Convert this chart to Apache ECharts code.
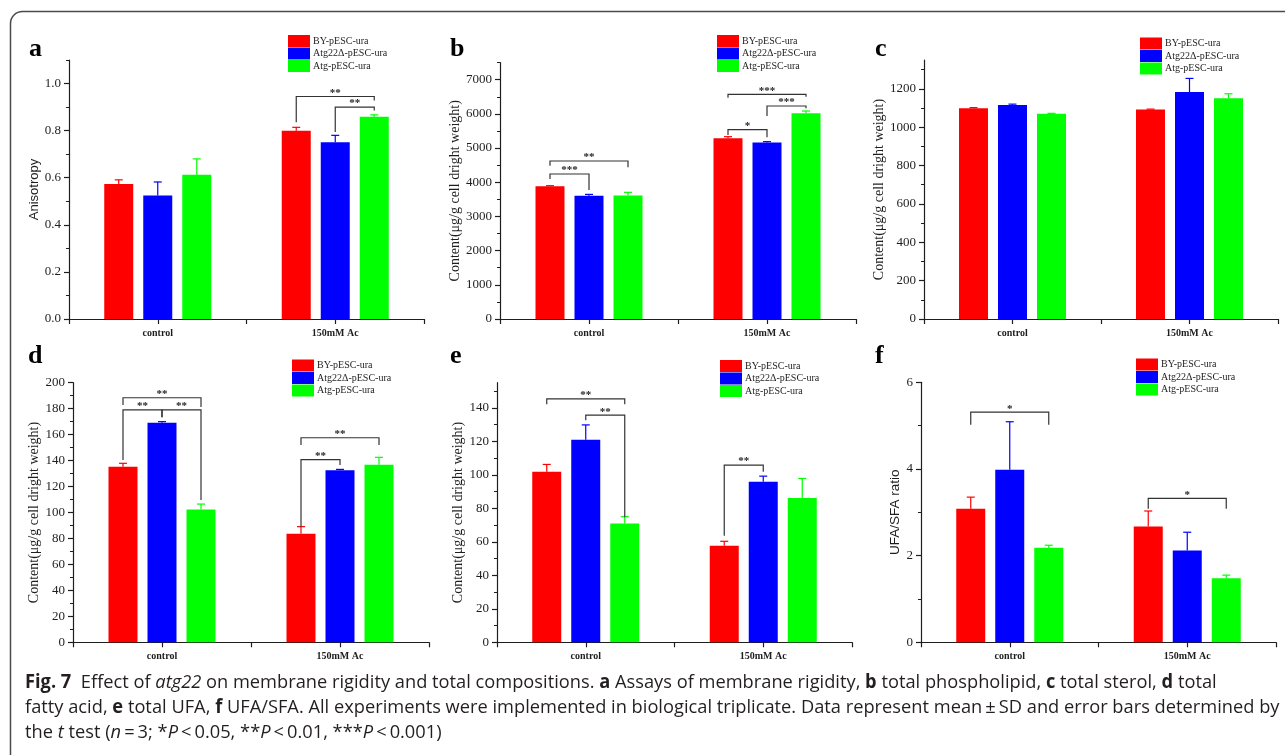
<!DOCTYPE html>
<html>
<head>
<meta charset="utf-8">
<script src="https://cdn.jsdelivr.net/npm/echarts@6/dist/echarts.min.js"></script>
<style>
  html, body { margin: 0; padding: 0; background: #fff; }
  #chart { width: 1285px; height: 755px; }
</style>
</head>
<body>
<div id="chart"></div>
<script>
// ---- data ----
const categories = ['control', '150mM Ac'];
const strains = ['BY-pESC-ura', 'Atg22Δ-pESC-ura', 'Atg-pESC-ura'];

// rows: strain, columns: condition
// significance rows: [condition, fromStrain, toStrain, bracketTop, leftLegEnd, rightLegEnd, stars]
const anisoMean = [[0.573, 0.800], [0.524, 0.751], [0.613, 0.859]];
const anisoSD   = [[0.018, 0.014], [0.058, 0.029], [0.067, 0.008]];
const anisoSig  = [[1, 0, 2, 0.945, 0.836, 0.928, '**'], [1, 1, 2, 0.900, 0.794, 0.886, '**']];
const anisoTicks = [0, 0.2, 0.4, 0.6, 0.8, 1.0];
const anisoMinor = [0.1, 0.3, 0.5, 0.7, 0.9, 1.1];

const phosMean = [[3880, 5285], [3607, 5160], [3610, 6016]];
const phosSD   = [[20, 48], [38, 28], [95, 68]];
const phosSig  = [
  [0, 0, 2, 4621, 4484, 4437, '**'],
  [0, 0, 1, 4241, 4095, 3773, '***'],
  [1, 0, 1, 5537, 5381, 5314, '*'],
  [1, 1, 2, 6230, 5937, 6162, '***'],
  [1, 0, 2, 6572, 6472, 6503, '***']
];
const phosTicks = [0, 1000, 2000, 3000, 4000, 5000, 6000, 7000];
const phosMinor = [500, 1500, 2500, 3500, 4500, 5500, 6500, 7500];

const sterolMean = [[1099, 1092], [1116, 1183], [1070, 1151]];
const sterolSD   = [[3, 2], [4, 71], [2, 23]];
const sterolSig  = [];
const sterolTicks = [0, 200, 400, 600, 800, 1000, 1200];
const sterolMinor = [100, 300, 500, 700, 900, 1100, 1300];

const faMean = [[135.3, 83.7], [169.2, 132.5], [102.4, 136.8]];
const faSD   = [[2.6, 5.4], [0.8, 0.7], [4.1, 5.7]];
const faSig  = [
  [0, 0, 2, 188.4, 182.8, 181.3, '**'],
  [0, 0, 1, 179.0, 140.4, 173.3, '**'],
  [0, 1, 2, 179.0, 173.3, 109.6, '**'],
  [1, 0, 2, 157.6, 152.0, 152.0, '**'],
  [1, 0, 1, 140.7, 89.1, 136.6, '**']
];
const faTicks = [0, 20, 40, 60, 80, 100, 120, 140, 160, 180, 200];
const faMinor = [10, 30, 50, 70, 90, 110, 130, 150, 170, 190];

const ufaMean = [[101.8, 57.7], [120.9, 95.8], [71.0, 86.1]];
const ufaSD   = [[4.4, 2.6], [8.9, 3.4], [4.0, 11.7]];
const ufaSig  = [
  [0, 0, 2, 145.4, 142.2, 142.2, '**'],
  [0, 1, 2, 135.6, 132.6, 74.6, '**'],
  [1, 0, 1, 105.8, 63.6, 101.8, '**']
];
const ufaTicks = [0, 20, 40, 60, 80, 100, 120, 140];
const ufaMinor = [10, 30, 50, 70, 90, 110, 130, 150];

const ratioMean = [[3.08, 2.67], [3.98, 2.12], [2.18, 1.48]];
const ratioSD   = [[0.27, 0.36], [1.11, 0.42], [0.06, 0.07]];
const ratioSig  = [[0, 0, 2, 5.31, 5.02, 5.02, '*'], [1, 0, 2, 3.32, 3.08, 3.08, '*']];
const ratioTicks = [0, 2, 4, 6];
const ratioMinor = [1, 3, 5];

const contentTitle = 'Content(μg/g cell dright weight)';

// ---- styles ----
const SERIF = '"Liberation Serif", "Times New Roman", serif';
const SANS = '"Liberation Sans", Arial, sans-serif';
const CAPTION_FONT = '"Open Sans", "Noto Sans", sans-serif';
const CAPTION_SIZE = 19;
const INK = '#1e1e1e';
const strainColors = ['#ff0000', '#0000ff', '#00ff00'];
const BAR_W = 29;
const BAR_GAP = 0.345;
const STEP = BAR_W * (1 + BAR_GAP);

const panels = [
  { letter: 'a', mean: anisoMean, sd: anisoSD, sig: anisoSig, ticks: anisoTicks, minor: anisoMinor, max: 1.1,
    title: 'Anisotropy', titleFont: SANS, titleSize: 13, decimals: 1, nameGap: 28,
    grid: { left: 69, top: 60, width: 355, height: 259 }, legend: { left: 283, top: 30 }, letterPos: [29, 49] },
  { letter: 'b', mean: phosMean, sd: phosSD, sig: phosSig, ticks: phosTicks, minor: phosMinor, max: 7500,
    title: contentTitle, titleFont: SERIF, titleSize: 14, decimals: 0, nameGap: 35,
    grid: { left: 500, top: 62.6, width: 356, height: 256.4 }, legend: { left: 712, top: 30 }, letterPos: [450, 49] },
  { letter: 'c', mean: sterolMean, sd: sterolSD, sig: sterolSig, ticks: sterolTicks, minor: sterolMinor, max: 1350,
    title: contentTitle, titleFont: SERIF, titleSize: 14, decimals: 0, nameGap: 37,
    grid: { left: 924, top: 60, width: 354, height: 259 }, legend: { left: 1135, top: 32.5 }, letterPos: [875, 49] },
  { letter: 'd', mean: faMean, sd: faSD, sig: faSig, ticks: faTicks, minor: faMinor, max: 200,
    title: contentTitle, titleFont: SERIF, titleSize: 14, decimals: 0, nameGap: 30,
    grid: { left: 73, top: 382.7, width: 356, height: 259.6 }, legend: { left: 287, top: 354.5 }, letterPos: [28, 356] },
  { letter: 'e', mean: ufaMean, sd: ufaSD, sig: ufaSig, ticks: ufaTicks, minor: ufaMinor, max: 155,
    title: contentTitle, titleFont: SERIF, titleSize: 14, decimals: 0, nameGap: 31,
    grid: { left: 497, top: 382.7, width: 355, height: 259.6 }, legend: { left: 715, top: 355 }, letterPos: [450, 356] },
  { letter: 'f', mean: ratioMean, sd: ratioSD, sig: ratioSig, ticks: ratioTicks, minor: ratioMinor, max: 6,
    title: 'UFA/SFA ratio', titleFont: SANS, titleSize: 13.5, decimals: 0, nameGap: 19,
    grid: { left: 921, top: 382.3, width: 355, height: 260 }, legend: { left: 1131, top: 353.5 }, letterPos: [875, 356] }
];

// ---- build ----
const option = {
  animation: false,
  backgroundColor: '#ffffff',
  grid: [], xAxis: [], yAxis: [], legend: [], series: [], graphic: []
};

function errorBarRenderer(params, api) {
  const cat = api.value(0), i = api.value(1), mean = api.value(2), sd = api.value(3);
  const base = api.coord([cat, mean]);
  const tip = api.coord([cat, mean + sd]);
  const x = base[0] + (i - 1) * STEP;
  const half = 4;
  return {
    type: 'group',
    children: [
      { type: 'line', shape: { x1: x, y1: base[1], x2: x, y2: tip[1] },
        style: { stroke: strainColors[i], lineWidth: 1.2 } },
      { type: 'line', shape: { x1: x - half, y1: tip[1], x2: x + half, y2: tip[1] },
        style: { stroke: strainColors[i], lineWidth: 1.2 } }
    ]
  };
}

function makeBracketRenderer(sig) {
  return function (params, api) {
    const cat = api.value(0), i = api.value(1), j = api.value(2);
    const top = api.coord([cat, api.value(3)]);
    const yl = api.coord([cat, api.value(4)])[1];
    const yr = api.coord([cat, api.value(5)])[1];
    const x1 = top[0] + (i - 1) * STEP;
    const x2 = top[0] + (j - 1) * STEP;
    return {
      type: 'group',
      children: [
        { type: 'polyline', shape: { points: [[x1, yl], [x1, top[1]], [x2, top[1]], [x2, yr]] },
          style: { stroke: '#333', lineWidth: 1.2, fill: null } },
        { type: 'text', x: (x1 + x2) / 2, y: top[1] + 2,
          style: { text: sig[params.dataIndex][6], fill: INK, fontFamily: SERIF, fontWeight: 'bold',
                   fontSize: 11, align: 'center', verticalAlign: 'bottom' } }
      ]
    };
  };
}

panels.forEach((p, k) => {
  option.grid.push(Object.assign({}, p.grid));

  const xi = option.xAxis.length;
  option.xAxis.push({
    type: 'category', gridIndex: k, data: categories,
    axisLine: { lineStyle: { color: INK, width: 1.2 } },
    axisTick: { show: false },
    axisLabel: { margin: 9, fontFamily: SERIF, fontWeight: 'bold', fontSize: 10, color: INK }
  });
  // tick marks at group centres and group boundaries
  option.xAxis.push({
    type: 'value', gridIndex: k, min: 0, max: 2, interval: 0.5, position: 'bottom',
    axisLine: { show: false }, axisLabel: { show: false }, splitLine: { show: false },
    axisTick: { show: true, length: 5, lineStyle: { color: INK, width: 1.2 } }
  });

  const yi = option.yAxis.length;
  const step = p.ticks[1] - p.ticks[0];
  option.yAxis.push({
    type: 'value', gridIndex: k, min: 0, max: p.max, interval: step,
    name: p.title, nameLocation: 'middle', nameGap: p.nameGap,
    nameTextStyle: { fontFamily: p.titleFont, fontSize: p.titleSize, color: INK },
    axisLine: { show: true, lineStyle: { color: INK, width: 1.2 } },
    axisTick: { show: true, length: 5, customValues: p.ticks, lineStyle: { color: INK, width: 1.2 } },
    axisLabel: { customValues: p.ticks, formatter: v => Number(v).toFixed(p.decimals),
                 fontFamily: SERIF, fontSize: 13, color: INK, margin: 8 },
    splitLine: { show: false }
  });
  // minor ticks
  option.yAxis.push({
    type: 'value', gridIndex: k, min: 0, max: p.max, interval: step, position: 'left',
    axisLine: { show: false }, axisLabel: { show: false }, splitLine: { show: false },
    axisTick: { show: true, length: 3, customValues: p.minor, lineStyle: { color: INK, width: 1 } }
  });

  option.legend.push({
    left: p.legend.left, top: p.legend.top, orient: 'vertical',
    itemWidth: 22, itemHeight: 12, itemGap: 0.5, icon: 'rect', selectedMode: false,
    data: strains,
    textStyle: { fontFamily: SERIF, fontSize: 10, color: INK, padding: [0, 0, 0, -2] }
  });

  strains.forEach((name, i) => {
    option.series.push({
      type: 'bar', name, xAxisIndex: xi, yAxisIndex: yi,
      data: p.mean[i], barWidth: BAR_W, barGap: (BAR_GAP * 100) + '%',
      itemStyle: { color: strainColors[i] }, silent: true
    });
  });

  const errData = [];
  strains.forEach((_, i) => categories.forEach((_, c) => errData.push([c, i, p.mean[i][c], p.sd[i][c]])));
  option.series.push({
    type: 'custom', xAxisIndex: xi, yAxisIndex: yi, silent: true, z: 3,
    renderItem: errorBarRenderer, data: errData
  });

  if (p.sig.length) {
    option.series.push({
      type: 'custom', xAxisIndex: xi, yAxisIndex: yi, silent: true, z: 4,
      renderItem: makeBracketRenderer(p.sig), data: p.sig.map(s => s.slice(0, 6))
    });
  }

  option.graphic.push({
    type: 'text', x: p.letterPos[0], y: p.letterPos[1],
    style: { text: p.letter, fontFamily: SERIF, fontWeight: 'bold', fontSize: 26, fill: '#000',
             verticalAlign: 'middle' }
  });
});

// figure frame
option.graphic.push({
  type: 'rect', shape: { x: 10.5, y: 11.5, width: 1300, height: 755, r: 12 },
  style: { fill: null, stroke: '#4a4a4a', lineWidth: 1.5 }, silent: true
});

// caption: a light humanist sans, narrowed horizontally to keep the line lengths
const captionLines = [
  '{b|Fig. 7}  Effect of {i|atg22} on membrane rigidity and total compositions. {b|a} Assays of membrane rigidity, {b|b} total phospholipid, {b|c} total sterol, {b|d} total',
  'fatty acid, {b|e} total UFA, {b|f} UFA/SFA. All experiments were implemented in biological triplicate. Data represent mean\u2009±\u2009SD and error bars determined by',
  'the {i|t} test ({i|n}\u2009=\u20093; *{i|P}\u2009<\u20090.05, **{i|P}\u2009<\u20090.01, ***{i|P}\u2009<\u20090.001)'
];
function captionScale() {
  const ctx = document.createElement('canvas').getContext('2d');
  ctx.font = CAPTION_SIZE + 'px ' + CAPTION_FONT;
  const plain = captionLines[1].replace(/\{[a-z]\|([^}]*)\}/g, '$1');
  return Math.min(1, 1253 / ctx.measureText(plain).width);
}
const capScale = captionScale();
captionLines.forEach((line, n) => {
  option.graphic.push({
    type: 'text', x: 25, y: 683 + n * 25, scaleX: capScale,
    style: {
      text: line, fontFamily: CAPTION_FONT, fontSize: CAPTION_SIZE, fill: '#231f20', verticalAlign: 'middle',
      rich: {
        b: { fontFamily: CAPTION_FONT, fontSize: CAPTION_SIZE, fontWeight: 'bold', fill: '#231f20' },
        i: { fontFamily: CAPTION_FONT, fontSize: CAPTION_SIZE, fontStyle: 'italic', fill: '#231f20' }
      }
    }
  });
});

const chart = echarts.init(document.getElementById('chart'), null, { renderer: 'canvas' });
chart.setOption(option);
</script>
</body>
</html>
